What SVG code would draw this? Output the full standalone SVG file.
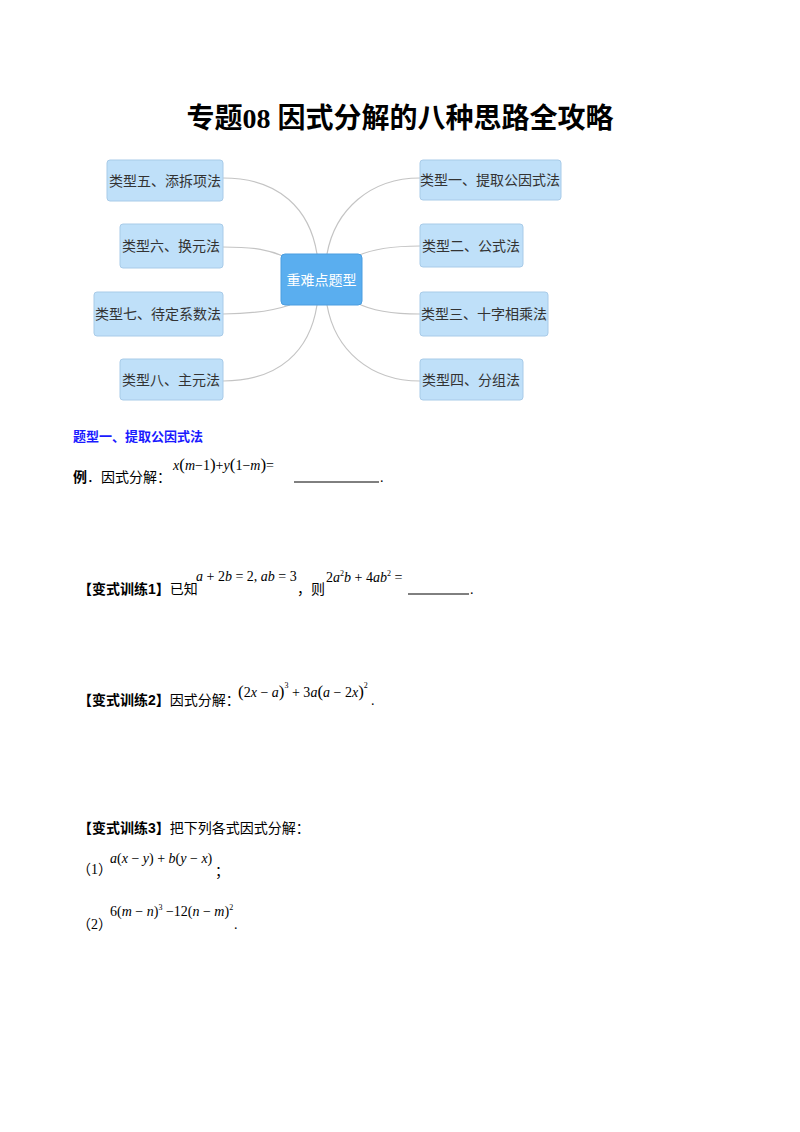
<svg xmlns="http://www.w3.org/2000/svg" width="800" height="1132" viewBox="0 0 800 1132">
<style>
.box{fill:#bfe0f9;stroke:#a8cbe8;stroke-width:1}
.bt{font-family:"Noto Sans CJK SC",sans-serif;font-size:14px;fill:#333}
.ln{fill:none;stroke:#c4c4c4;stroke-width:1.2}
.t{font-family:"Liberation Serif","Noto Sans CJK SC",serif;font-size:14px;fill:#000}
.m{font-family:"Liberation Serif",serif;font-size:14px;font-style:italic;fill:#000}
.b{font-weight:bold}
</style>
<rect width="800" height="1132" fill="#fff"/>
<text x="400" y="128" text-anchor="middle" font-family="Liberation Serif,Noto Sans CJK SC,serif" font-size="28" font-weight="bold">专题08  因式分解的八种思路全攻略</text>
<g id="connectors">
<path class="ln" d="M223,178 C280,178 310,210 317,254"/>
<path class="ln" d="M223,247 C255,247 270,250 285,257"/>
<path class="ln" d="M223,314 C255,314 275,310 290,305"/>
<path class="ln" d="M223,381 C280,381 310,350 317,305"/>
<path class="ln" d="M420,178 C370,178 335,210 327,254"/>
<path class="ln" d="M420,246 C390,246 370,250 357,256"/>
<path class="ln" d="M420,314 C390,314 370,310 357,303"/>
<path class="ln" d="M420,381 C370,381 335,350 327,305"/>
</g>
<g id="center"><rect x="281" y="254" width="81" height="51" rx="4" fill="#5aaeef" stroke="#4a9de0"/><text x="321.5" y="285" text-anchor="middle" font-family="Noto Sans CJK SC,sans-serif" font-size="14" fill="#fff">重难点题型</text></g>
<g id="n5"><rect class="box" x="107" y="160" width="116" height="41" rx="3"/><text class="bt" x="165" y="186" text-anchor="middle">类型五、添拆项法</text></g>
<g id="n6"><rect class="box" x="120" y="224" width="103" height="44" rx="3"/><text class="bt" x="171" y="251" text-anchor="middle">类型六、换元法</text></g>
<g id="n7"><rect class="box" x="94" y="292" width="129" height="44" rx="3"/><text class="bt" x="158" y="319" text-anchor="middle">类型七、待定系数法</text></g>
<g id="n8"><rect class="box" x="120" y="359" width="103" height="41" rx="3"/><text class="bt" x="171" y="385" text-anchor="middle">类型八、主元法</text></g>
<g id="n1"><rect class="box" x="420" y="160" width="141" height="40" rx="3"/><text class="bt" x="490" y="185" text-anchor="middle">类型一、提取公因式法</text></g>
<g id="n2"><rect class="box" x="420" y="224" width="103" height="43" rx="3"/><text class="bt" x="471" y="251" text-anchor="middle">类型二、公式法</text></g>
<g id="n3"><rect class="box" x="420" y="292" width="128" height="44" rx="3"/><text class="bt" x="484" y="319" text-anchor="middle">类型三、十字相乘法</text></g>
<g id="n4"><rect class="box" x="420" y="359" width="103" height="41" rx="3"/><text class="bt" x="471" y="385" text-anchor="middle">类型四、分组法</text></g>

<text x="73" y="441" font-family="Noto Sans CJK SC,sans-serif" font-size="13" font-weight="bold" fill="#1a1aff">题型一、提取公因式法</text>
<text class="t" x="73" y="482"><tspan class="b">例</tspan>．因式分解：</text>
<text class="m" x="173" y="470">x<tspan font-style="normal" font-size="17">(</tspan>m<tspan font-style="normal">−1</tspan><tspan font-style="normal" font-size="17">)</tspan><tspan font-style="normal">+</tspan>y<tspan font-style="normal" font-size="17">(</tspan><tspan font-style="normal">1−</tspan>m<tspan font-style="normal" font-size="17">)</tspan><tspan font-style="normal">=</tspan></text>
<line x1="294" y1="482" x2="379" y2="482" stroke="#000"/><text class="t" x="380" y="482">.</text>

<text class="t" x="78" y="594"><tspan class="b">【变式训练</tspan><tspan class="b" font-family="Liberation Sans">1</tspan><tspan class="b">】</tspan>已知</text>
<text class="m" x="196" y="581">a<tspan font-style="normal"> + 2</tspan>b<tspan font-style="normal"> = 2, </tspan>ab<tspan font-style="normal"> = 3</tspan></text>
<text class="t" x="297" y="594">，则</text>
<text class="m" x="326" y="582"><tspan font-style="normal">2</tspan>a<tspan font-style="normal" font-size="8" dy="-6">2</tspan><tspan dy="6">b</tspan><tspan font-style="normal"> + 4</tspan>ab<tspan font-style="normal" font-size="8" dy="-6">2</tspan><tspan font-style="normal" dy="6"> =</tspan></text>
<line x1="408" y1="594" x2="469" y2="594" stroke="#000"/><text class="t" x="470" y="594">.</text>

<text class="t" x="78" y="705"><tspan class="b">【变式训练</tspan><tspan class="b" font-family="Liberation Sans">2</tspan><tspan class="b">】</tspan>因式分解：</text>
<text class="m" x="238" y="697"><tspan font-style="normal" font-size="17">(</tspan><tspan font-style="normal">2</tspan>x<tspan font-style="normal"> − </tspan>a<tspan font-style="normal" font-size="17">)</tspan><tspan font-style="normal" font-size="8" dy="-9">3</tspan><tspan font-style="normal" dy="9"> + 3</tspan>a<tspan font-style="normal" font-size="17">(</tspan>a<tspan font-style="normal"> − 2</tspan>x<tspan font-style="normal" font-size="17">)</tspan><tspan font-style="normal" font-size="8" dy="-9">2</tspan></text>
<text class="t" x="371" y="705">.</text>

<text class="t" x="78" y="833"><tspan class="b">【变式训练</tspan><tspan class="b" font-family="Liberation Sans">3</tspan><tspan class="b">】</tspan>把下列各式因式分解：</text>
<text class="t" x="77" y="874">（1）</text>
<text class="m" x="110" y="863">a<tspan font-style="normal">(</tspan>x<tspan font-style="normal"> − </tspan>y<tspan font-style="normal">) + </tspan>b<tspan font-style="normal">(</tspan>y<tspan font-style="normal"> − </tspan>x<tspan font-style="normal">)</tspan></text>
<text class="t" x="215" y="876">；</text>
<text class="t" x="77" y="929">（2）</text>
<text class="m" x="110" y="916"><tspan font-style="normal">6(</tspan>m<tspan font-style="normal"> − </tspan>n<tspan font-style="normal">)</tspan><tspan font-style="normal" font-size="8" dy="-6">3</tspan><tspan font-style="normal" dy="6"> −12(</tspan>n<tspan font-style="normal"> − </tspan>m<tspan font-style="normal">)</tspan><tspan font-style="normal" font-size="8" dy="-6">2</tspan></text>
<text class="t" x="234" y="929">.</text>
</svg>
